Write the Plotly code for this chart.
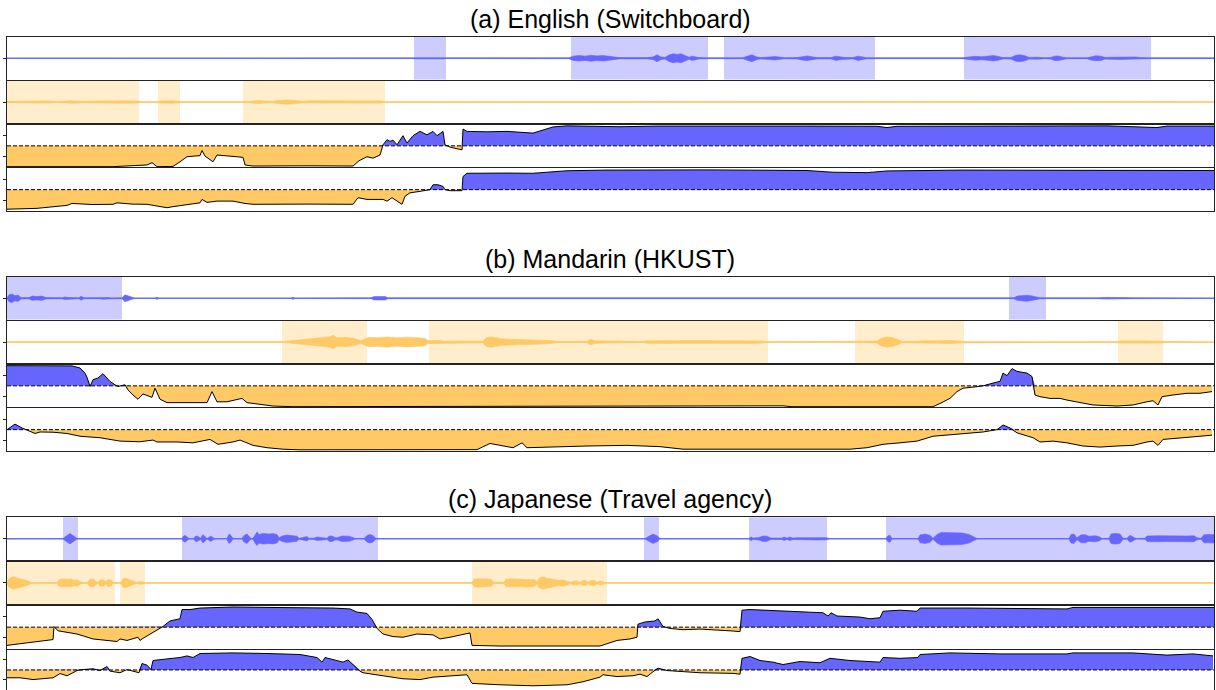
import plotly.graph_objects as go

# ---------------- data (time axis in frames, 0..1207) ----------------
titles = ["(a) English (Switchboard)", "(b) Mandarin (HKUST)", "(c) Japanese (Travel agency)"]
t_max = 1207

# speaker-activity spans (frames)
a_blue_spans = [(407, 439), (564, 701), (717, 868), (957, 1144)]
a_orange_spans = [(0, 132), (151, 173), (236, 378)]
b_blue_spans = [(0, 115), (1002, 1039)]
b_orange_spans = [(275, 360), (422, 761), (848, 957), (1111, 1156)]
c_blue_spans = [(56, 71), (175, 371), (637, 652), (742, 820), (879, 1207)]
c_orange_spans = [(0, 108), (113, 138), (465, 600)]

# waveform envelopes (frame, normalised amplitude)
a_blue_env = [(0,0.01),(405,0.01),(410,0.03),(436,0.03),(440,0.01),(562,0.02),(566,0.1),(572,0.13),(578,0.1),(584,0.14),(590,0.11),(596,0.13),(602,0.09),(607,0.06),(612,0.03),(640,0.03),(646,0.06),(650,0.16),(654,0.06),(658,0.04),(662,0.15),(666,0.21),(670,0.18),(674,0.21),(678,0.14),(682,0.05),(685,0.1),(688,0.08),(692,0.03),(700,0.02),(736,0.02),(740,0.09),(745,0.16),(750,0.06),(753,0.03),(762,0.06),(768,0.08),(774,0.05),(778,0.02),(790,0.03),(795,0.08),(800,0.11),(805,0.07),(810,0.03),(824,0.03),(829,0.1),(834,0.06),(838,0.03),(846,0.03),(851,0.1),(856,0.06),(860,0.02),(955,0.02),(960,0.06),(968,0.09),(975,0.07),(982,0.1),(986,0.13),(990,0.1),(996,0.03),(1004,0.04),(1009,0.14),(1013,0.16),(1018,0.12),(1022,0.04),(1030,0.05),(1038,0.02),(1044,0.04),(1047,0.1),(1051,0.11),(1056,0.05),(1060,0.02),(1080,0.02),(1084,0.08),(1089,0.12),(1094,0.1),(1098,0.04),(1104,0.05),(1112,0.06),(1120,0.05),(1128,0.06),(1134,0.03),(1140,0.02),(1207,0.02)]
a_orange_env = [(0,0.02),(10,0.03),(14,0.05),(25,0.04),(40,0.05),(50,0.02),(58,0.05),(66,0.06),(73,0.03),(90,0.05),(100,0.06),(110,0.05),(120,0.06),(130,0.05),(134,0.01),(150,0.01),(153,0.05),(165,0.06),(172,0.04),(176,0.01),(240,0.01),(246,0.05),(252,0.07),(258,0.05),(265,0.03),(272,0.08),(280,0.1),(288,0.08),(295,0.04),(305,0.06),(315,0.07),(325,0.05),(335,0.06),(345,0.05),(355,0.06),(365,0.05),(373,0.05),(378,0.01),(1207,0.01)]
b_blue_env = [(0,0.02),(2,0.16),(5,0.2),(8,0.12),(11,0.15),(14,0.03),(22,0.03),(25,0.1),(30,0.08),(35,0.1),(39,0.03),(55,0.02),(58,0.06),(62,0.03),(72,0.02),(74,0.09),(77,0.02),(92,0.02),(96,0.05),(102,0.03),(104,0.01),(115,0.02),(118,0.16),(121,0.1),(125,0.05),(128,0.01),(148,0.01),(150,0.05),(152,0.01),(284,0.01),(286,0.05),(288,0.01),(364,0.02),(367,0.08),(372,0.07),(378,0.08),(381,0.02),(855,0.02),(857,0.05),(860,0.02),(1007,0.02),(1010,0.1),(1015,0.12),(1020,0.14),(1025,0.11),(1030,0.06),(1033,0.02),(1090,0.02),(1100,0.04),(1120,0.03),(1126,0.02),(1207,0.01)]
b_orange_env = [(0,0.01),(278,0.01),(283,0.06),(290,0.09),(298,0.12),(305,0.15),(312,0.18),(318,0.22),(323,0.25),(326,0.32),(330,0.2),(338,0.22),(346,0.18),(352,0.1),(354,0.06),(358,0.15),(362,0.22),(370,0.2),(380,0.24),(390,0.2),(400,0.23),(410,0.2),(418,0.18),(421,0.07),(426,0.08),(432,0.07),(437,0.04),(460,0.05),(476,0.04),(479,0.2),(484,0.24),(490,0.2),(495,0.15),(505,0.13),(515,0.12),(525,0.11),(535,0.1),(546,0.06),(550,0.02),(580,0.02),(583,0.13),(588,0.06),(600,0.05),(616,0.04),(620,0.02),(636,0.02),(640,0.06),(660,0.07),(680,0.06),(700,0.07),(720,0.06),(740,0.07),(755,0.05),(758,0.01),(852,0.01),(856,0.04),(870,0.05),(874,0.18),(880,0.24),(886,0.2),(892,0.1),(895,0.03),(910,0.03),(915,0.06),(930,0.06),(945,0.07),(953,0.04),(956,0.01),(1110,0.01),(1114,0.05),(1140,0.05),(1155,0.04),(1158,0.01),(1207,0.01)]
c_blue_env = [(0,0.01),(56,0.01),(60,0.15),(63,0.24),(66,0.15),(70,0.01),(175,0.01),(176,0.1),(178,0.16),(180,0.1),(182,0.01),(187,0.01),(188,0.1),(190,0.13),(192,0.08),(194,0.02),(195,0.15),(196,0.19),(198,0.1),(200,0.01),(203,0.1),(204,0.13),(206,0.05),(208,0.01),(220,0.01),(221,0.15),(222,0.22),(224,0.15),(226,0.01),(235,0.01),(237,0.15),(240,0.22),(242,0.12),(244,0.01),(246,0.02),(248,0.2),(250,0.32),(252,0.2),(256,0.25),(262,0.22),(266,0.24),(270,0.2),(272,0.05),(276,0.14),(280,0.17),(284,0.15),(290,0.12),(292,0.02),(298,0.08),(300,0.1),(302,0.02),(307,0.03),(310,0.08),(314,0.07),(318,0.05),(320,0.02),(322,0.12),(325,0.13),(328,0.06),(330,0.05),(335,0.13),(342,0.12),(346,0.06),(348,0.01),(357,0.01),(360,0.15),(363,0.2),(366,0.15),(369,0.01),(638,0.01),(642,0.12),(646,0.22),(650,0.14),(653,0.01),(742,0.01),(744,0.09),(746,0.03),(752,0.06),(756,0.13),(760,0.12),(764,0.03),(775,0.03),(777,0.08),(780,0.03),(783,0.08),(786,0.03),(790,0.05),(800,0.06),(810,0.06),(820,0.05),(822,0.01),(879,0.01),(881,0.14),(883,0.16),(885,0.01),(911,0.01),(913,0.18),(918,0.22),(923,0.16),(926,0.02),(930,0.2),(934,0.29),(945,0.28),(955,0.27),(962,0.2),(967,0.08),(970,0.01),(1062,0.01),(1064,0.2),(1067,0.22),(1070,0.05),(1074,0.18),(1078,0.19),(1082,0.12),(1088,0.14),(1092,0.1),(1095,0.01),(1102,0.02),(1104,0.22),(1108,0.25),(1113,0.22),(1116,0.02),(1120,0.02),(1123,0.16),(1126,0.1),(1129,0.01),(1138,0.02),(1140,0.13),(1150,0.14),(1160,0.13),(1170,0.14),(1180,0.13),(1187,0.14),(1190,0.05),(1194,0.02),(1197,0.19),(1202,0.2),(1207,0.19)]
c_orange_env = [(0,0.01),(1,0.15),(4,0.25),(7,0.29),(11,0.22),(15,0.18),(20,0.12),(24,0.03),(27,0.01),(50,0.01),(52,0.15),(56,0.19),(60,0.17),(64,0.19),(67,0.12),(70,0.15),(73,0.08),(75,0.01),(80,0.01),(83,0.17),(86,0.19),(89,0.1),(91,0.01),(93,0.14),(96,0.16),(99,0.06),(101,0.16),(104,0.14),(106,0.02),(114,0.02),(116,0.2),(119,0.22),(123,0.15),(127,0.06),(130,0.02),(133,0.06),(137,0.05),(138,0.01),(465,0.01),(467,0.18),(472,0.2),(478,0.19),(484,0.17),(487,0.03),(497,0.03),(499,0.18),(505,0.19),(515,0.18),(522,0.19),(528,0.15),(530,0.05),(532,0.22),(536,0.29),(540,0.22),(544,0.2),(548,0.16),(552,0.12),(556,0.15),(560,0.1),(563,0.03),(566,0.08),(570,0.1),(573,0.02),(575,0.1),(578,0.13),(581,0.03),(583,0.1),(587,0.13),(590,0.05),(592,0.08),(595,0.1),(597,0.02),(600,0.01),(1207,0.01)]

# turn-taking score curves (frame, value in [-1, 1])
a_score1 = [(0,-0.98),(60,-0.97),(106,-0.98),(140,-0.9),(145,-0.79),(150,-0.98),(166,-0.97),(173,-0.75),(180,-0.51),(193,-0.46),(195,-0.22),(198,-0.48),(206,-0.75),(210,-0.43),(218,-0.46),(226,-0.48),(236,-0.54),(238,-0.9),(246,-0.95),(300,-0.94),(346,-0.95),(352,-0.7),(360,-0.51),(366,-0.58),(373,-0.43),(376,0.05),(380,0.29),(383,0.21),(386,0.27),(390,0.05),(396,0.48),(400,0.13),(406,0.48),(413,0.68),(420,0.52),(426,0.68),(430,0.48),(436,0.68),(438,0.05),(443,-0.06),(455,-0.19),(456,0.79),(460,0.68),(480,0.66),(500,0.68),(526,0.6),(546,0.89),(560,0.94),(600,0.93),(613,0.9),(650,0.93),(700,0.92),(750,0.94),(783,0.9),(800,0.93),(870,0.92),(880,0.86),(890,0.92),(960,0.94),(1000,0.93),(1100,0.94),(1150,0.86),(1160,0.93),(1207,0.93)]
a_score2 = [(0,-0.92),(30,-0.88),(60,-0.74),(65,-0.65),(85,-0.7),(106,-0.69),(110,-0.62),(125,-0.68),(140,-0.69),(160,-0.85),(166,-0.8),(180,-0.7),(193,-0.62),(195,-0.46),(200,-0.6),(210,-0.54),(226,-0.54),(238,-0.65),(246,-0.69),(300,-0.68),(346,-0.69),(351,-0.38),(360,-0.46),(376,-0.46),(380,-0.54),(385,-0.38),(393,-0.65),(395,-0.69),(398,-0.31),(403,-0.15),(413,-0.08),(423,0.0),(426,0.23),(431,0.23),(436,0.15),(438,0.0),(443,-0.05),(455,-0.05),(456,0.62),(460,0.77),(500,0.78),(526,0.77),(560,0.89),(600,0.92),(700,0.93),(800,0.9),(826,0.82),(860,0.8),(880,0.88),(956,0.92),(1050,0.91),(1150,0.92),(1207,0.9)]
b_score1 = [(0,0.95),(40,0.95),(65,0.94),(73,0.84),(78,0.6),(80,0.4),(83,-0.03),(86,0.29),(91,0.37),(96,0.57),(103,0.21),(108,0.05),(111,-0.03),(118,0.05),(121,-0.19),(126,-0.43),(131,-0.63),(136,-0.38),(145,-0.54),(148,-0.11),(153,-0.63),(160,-0.79),(180,-0.8),(200,-0.79),(205,-0.27),(210,-0.75),(220,-0.75),(235,-0.59),(240,-0.79),(253,-0.86),(266,-0.95),(286,-0.98),(513,-0.95),(520,-0.98),(776,-0.94),(785,-0.98),(926,-0.98),(933,-0.83),(943,-0.59),(950,-0.27),(956,-0.11),(966,-0.06),(976,0.0),(986,0.13),(993,0.21),(996,0.6),(1000,0.48),(1005,0.81),(1010,0.68),(1020,0.6),(1025,0.44),(1028,-0.43),(1033,-0.51),(1043,-0.59),(1053,-0.59),(1060,-0.67),(1076,-0.83),(1086,-0.9),(1110,-0.95),(1126,-0.9),(1140,-0.75),(1146,-0.7),(1151,-0.9),(1155,-0.51),(1166,-0.43),(1180,-0.35),(1193,-0.35),(1205,-0.27)]
b_score2 = [(0,0.0),(8,0.26),(15,0.08),(21,-0.03),(28,-0.18),(33,-0.11),(46,-0.12),(60,-0.18),(73,-0.31),(93,-0.38),(113,-0.54),(133,-0.57),(146,-0.49),(150,-0.58),(170,-0.58),(186,-0.62),(203,-0.46),(211,-0.69),(226,-0.58),(233,-0.49),(246,-0.74),(260,-0.85),(276,-0.92),(293,-0.95),(393,-0.95),(470,-0.94),(483,-0.65),(493,-0.74),(506,-0.85),(515,-0.62),(520,-0.85),(580,-0.77),(620,-0.74),(653,-0.8),(676,-0.92),(793,-0.92),(843,-0.92),(860,-0.85),(876,-0.69),(893,-0.62),(910,-0.54),(926,-0.31),(943,-0.23),(960,-0.15),(976,-0.11),(990,0.0),(996,0.22),(1003,0.08),(1010,-0.15),(1026,-0.38),(1033,-0.58),(1046,-0.54),(1060,-0.62),(1076,-0.77),(1093,-0.82),(1110,-0.77),(1126,-0.74),(1140,-0.58),(1146,-0.54),(1151,-0.74),(1156,-0.46),(1176,-0.38),(1193,-0.31),(1205,-0.26)]
c_score1 = [(0,-0.85),(26,-0.7),(46,-0.58),(47,0.03),(51,-0.17),(70,-0.32),(86,-0.55),(100,-0.62),(110,-0.67),(113,-0.55),(120,-0.62),(131,-0.47),(133,-0.62),(136,-0.52),(146,-0.24),(156,0.03),(163,0.29),(173,0.39),(175,0.82),(183,0.82),(193,0.89),(226,0.94),(260,0.92),(293,0.92),(326,0.89),(343,0.85),(350,0.7),(360,0.64),(365,0.36),(370,-0.06),(376,-0.32),(386,-0.44),(396,-0.47),(410,-0.32),(426,-0.36),(433,-0.55),(443,-0.47),(463,-0.27),(465,-0.85),(493,-0.88),(526,-0.89),(560,-0.89),(593,-0.88),(610,-0.62),(623,-0.55),(630,-0.47),(631,0.14),(638,0.24),(648,0.29),(651,0.39),(656,0.03),(663,-0.06),(676,-0.12),(693,-0.09),(710,-0.12),(726,-0.18),(733,-0.21),(735,0.79),(743,0.82),(760,0.79),(793,0.7),(816,0.67),(821,0.52),(824,0.67),(830,0.52),(853,0.47),(863,0.39),(873,0.44),(876,0.74),(893,0.79),(910,0.74),(913,0.89),(960,0.89),(1060,0.85),(1066,0.92),(1126,0.92),(1207,0.92)]
c_score2 = [(0,-0.39),(13,-0.39),(26,-0.48),(46,-0.39),(53,-0.18),(60,-0.29),(70,-0.03),(76,0.02),(86,0.06),(93,-0.03),(100,0.17),(103,-0.06),(113,-0.14),(120,0.02),(126,-0.06),(132,-0.14),(135,0.32),(140,0.24),(144,0.02),(146,0.47),(160,0.55),(173,0.62),(180,0.7),(186,0.62),(193,0.82),(226,0.85),(260,0.82),(293,0.77),(310,0.62),(315,0.39),(318,0.62),(326,0.52),(336,0.39),(341,0.5),(350,0.09),(353,-0.06),(356,-0.14),(366,-0.21),(376,-0.29),(386,-0.36),(396,-0.44),(413,-0.48),(426,-0.36),(460,-0.24),(465,-0.67),(493,-0.74),(526,-0.79),(560,-0.74),(576,-0.59),(593,-0.36),(596,-0.24),(610,-0.33),(626,-0.29),(633,-0.21),(640,-0.33),(646,-0.09),(651,0.09),(660,-0.03),(676,-0.09),(693,-0.14),(726,-0.17),(733,-0.21),(735,0.58),(743,0.67),(753,0.47),(766,0.39),(776,0.27),(793,0.42),(813,0.36),(823,0.58),(843,0.47),(873,0.39),(876,0.62),(893,0.58),(911,0.62),(913,0.77),(943,0.85),(993,0.8),(1060,0.8),(1066,0.85),(1126,0.85),(1160,0.74),(1186,0.8),(1206,0.7)]

groups = [
    (a_blue_spans, a_orange_spans, a_blue_env, a_orange_env, a_score1, a_score2),
    (b_blue_spans, b_orange_spans, b_blue_env, b_orange_env, b_score1, b_score2),
    (c_blue_spans, c_orange_spans, c_blue_env, c_orange_env, c_score1, c_score2),
]

# ---------------- style ----------------
W, H = 1216, 690
BLUE = "#6666FF"
BLUE_SHADE = "#CCCCFF"
ORANGE = "#FFC966"
ORANGE_SHADE = "#FFEDCC"
FRAME = "#222222"
group_tops = [37, 277, 517.3]
pitch = [43.8, 43.8, 44.2]
title_y = [19, 259, 499]
X0, X1 = 7, 1214

fig = go.Figure()
layout = dict(width=W, height=H, margin=dict(l=0, r=0, t=0, b=0), autosize=False,
              paper_bgcolor="white", plot_bgcolor="white", showlegend=False,
              font=dict(family="Liberation Sans, Arial, sans-serif", color="black"))
shapes = []
annotations = []


def envelope(env):
    xs = [p[0] for p in env]
    ys = [p[1] for p in env]
    return xs + xs[::-1], ys + [-v for v in ys[::-1]]


for g, (bspans, ospans, benv, oenv, s1, s2) in enumerate(groups):
    annotations.append(dict(text=titles[g], x=(X0 + X1) / 2 / W, y=1 - title_y[g] / H,
                            xref="paper", yref="paper", showarrow=False,
                            xanchor="center", yanchor="middle", font=dict(size=25)))
    for r in range(4):
        idx = g * 4 + r + 1
        sfx = "" if idx == 1 else str(idx)
        top = group_tops[g] + r * pitch[g]
        bot = min(top + pitch[g] - 1.3, H)
        ydom = [max(0.0, 1 - bot / H), 1 - top / H]
        xa = dict(domain=[X0 / W, X1 / W], range=[0, t_max], showgrid=False, zeroline=False,
                  showticklabels=False, ticks="", showline=True, mirror=True,
                  linecolor=FRAME, linewidth=1.2, anchor="y" + sfx, fixedrange=True)
        tv = [0] if r < 2 else [-0.5, 0.5]
        ya = dict(domain=ydom, range=[-1, 1], showgrid=False, zeroline=False,
                  showticklabels=False, ticks="outside", ticklen=3, tickwidth=1,
                  tickcolor=FRAME, tickvals=tv, showline=True, mirror=True,
                  linecolor=FRAME, linewidth=1.2, anchor="x" + sfx, fixedrange=True)
        layout["xaxis" + sfx] = xa
        layout["yaxis" + sfx] = ya
        xr, yr = "x" + sfx, "y" + sfx
        if r < 2:
            spans = bspans if r == 0 else ospans
            shade = BLUE_SHADE if r == 0 else ORANGE_SHADE
            col = BLUE if r == 0 else ORANGE
            env = benv if r == 0 else oenv
            for (s0, s1_) in spans:
                shapes.append(dict(type="rect", xref=xr, yref=yr + " domain", x0=s0, x1=s1_,
                                   y0=0, y1=1, fillcolor=shade, line=dict(width=0), layer="below"))
            fig.add_trace(go.Scatter(x=[0, t_max], y=[0, 0], mode="lines",
                                     line=dict(color=col, width=1.2), xaxis=xr, yaxis=yr,
                                     hoverinfo="skip"))
            ex, ey = envelope(env)
            fig.add_trace(go.Scatter(x=ex, y=ey, mode="lines", fill="toself", fillcolor=col,
                                     line=dict(color=col, width=0.6), xaxis=xr, yaxis=yr,
                                     hoverinfo="skip"))
        else:
            sc = s1 if r == 2 else s2
            xs = [p[0] for p in sc]
            ys = [p[1] for p in sc]
            pos = [max(v, 0) for v in ys]
            neg = [min(v, 0) for v in ys]
            fig.add_trace(go.Scatter(x=xs, y=pos, mode="lines", fill="tozeroy", fillcolor=BLUE,
                                     line=dict(width=0, color=BLUE), xaxis=xr, yaxis=yr,
                                     hoverinfo="skip"))
            fig.add_trace(go.Scatter(x=xs, y=neg, mode="lines", fill="tozeroy", fillcolor=ORANGE,
                                     line=dict(width=0, color=ORANGE), xaxis=xr, yaxis=yr,
                                     hoverinfo="skip"))
            fig.add_trace(go.Scatter(x=[0, t_max], y=[0, 0], mode="lines",
                                     line=dict(color="black", width=1, dash="4px,2px"),
                                     xaxis=xr, yaxis=yr, hoverinfo="skip"))
            fig.add_trace(go.Scatter(x=xs, y=ys, mode="lines",
                                     line=dict(color="black", width=1), xaxis=xr, yaxis=yr,
                                     hoverinfo="skip"))

layout["shapes"] = shapes
layout["annotations"] = annotations
fig.update_layout(**layout)
fig.write_html("out.html", config={"displayModeBar": False},
               post_script="document.body.style.margin='0';document.body.style.overflow='hidden';")
